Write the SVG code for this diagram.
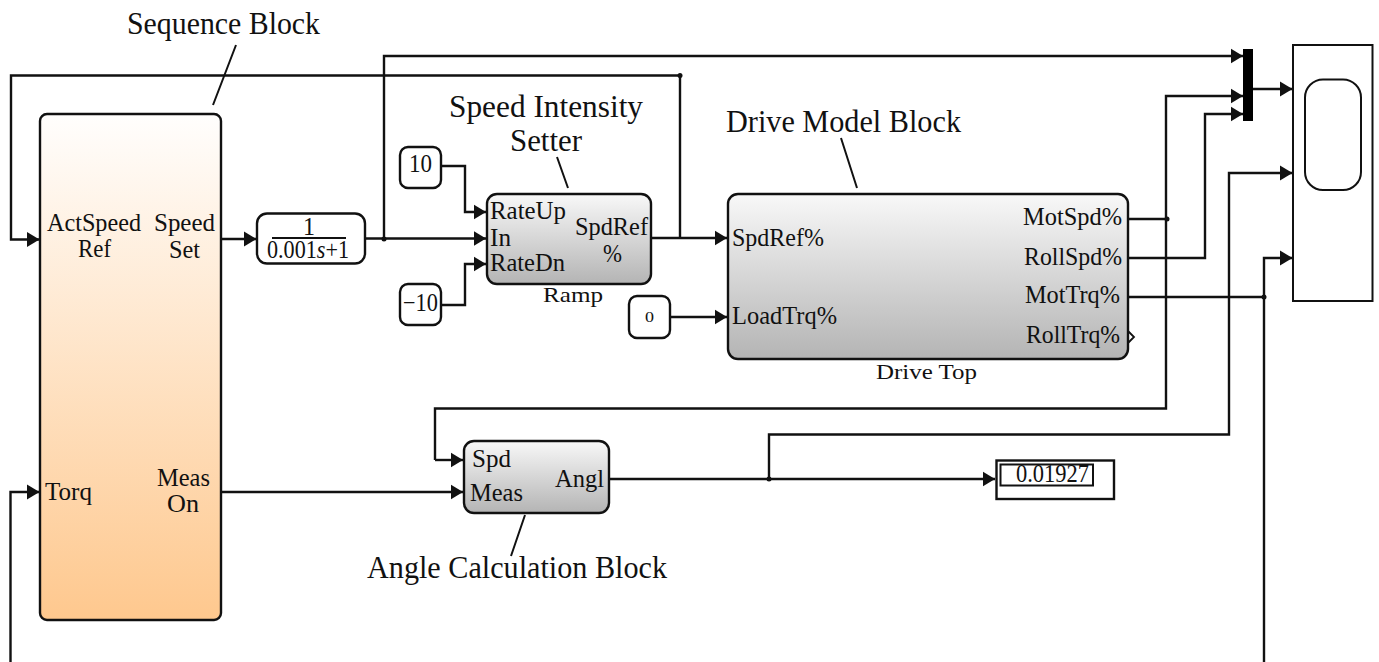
<svg xmlns="http://www.w3.org/2000/svg" width="1379" height="662" viewBox="0 0 1379 662">
<style>
text{font-family:"Liberation Serif","Times New Roman",serif;fill:#111;font-size:24.500px}
.lab{font-size:32px}
.sm{font-size:22px}
.box{stroke:#111;stroke-width:2.4;fill:#fff}
.grey{fill:url(#grey)}
.org{fill:url(#org)}
.w{fill:none;stroke:#111;stroke-width:2.4}
.a{marker-end:url(#arr)}
.lead{fill:none;stroke:#111;stroke-width:2}
.dot{fill:#111}
</style>
<defs>
<linearGradient id="grey" x1="0" y1="0" x2="0" y2="1"><stop offset="0" stop-color="#f8f8f8"/><stop offset="1" stop-color="#b4b4b4"/></linearGradient>
<linearGradient id="org" x1="0" y1="0" x2="0" y2="1"><stop offset="0" stop-color="#fffefd"/><stop offset="1" stop-color="#fec88e"/></linearGradient>
<marker id="arr" markerUnits="userSpaceOnUse" markerWidth="13" markerHeight="16" refX="12.500" refY="8" orient="auto"><path d="M0 0.500L12.500 8L0 15.500Z" fill="#111"/></marker>
</defs>
<g id="connectors">
<path class="w a" d="M384 239V56H1243"/>
<path class="w a" d="M680 238V75.500H11V239.500H39.500"/>
<path class="w a" d="M1128 219H1166V96H1243"/>
<path class="w a" d="M1128 258H1205V114H1243"/>
<path class="w" d="M1166 219V408.500H435V460"/>
<path class="w a" d="M435 460H463"/>
<path class="w a" d="M1253 89H1292.500"/>
<path class="w a" d="M769 479V434.500H1229V173H1292.500"/>
<path class="w" d="M1128 297H1264"/>
<path class="w a" d="M1264 662V258H1292.500"/>
<path class="w a" d="M221 239H256.500"/>
<path class="w a" d="M365 238.500H486"/>
<path class="w a" d="M441 166H465V212H486"/>
<path class="w a" d="M441 305H465V264H486"/>
<path class="w a" d="M651 238H727"/>
<path class="w a" d="M670 317H727"/>
<path class="w a" d="M609 479H995"/>
<path class="w a" d="M221 492H463"/>
<path class="w a" d="M10.500 662V492H39.500"/>
<circle class="dot" cx="384" cy="239" r="2.500"/>
<circle class="dot" cx="680" cy="75.500" r="2.500"/>
<circle class="dot" cx="1167" cy="219" r="2.500"/>
<circle class="dot" cx="1264" cy="297" r="2.500"/>
<circle class="dot" cx="769" cy="479" r="2.500"/>
</g>
<g id="sequence-block">
<rect class="box org" x="40" y="114" width="181" height="506" rx="7"/>
<text x="47" y="231" textLength="94" lengthAdjust="spacingAndGlyphs">ActSpeed</text>
<text x="78" y="257" textLength="33" lengthAdjust="spacingAndGlyphs">Ref</text>
<text x="154" y="231" textLength="61" lengthAdjust="spacingAndGlyphs">Speed</text>
<text x="169" y="258" textLength="31" lengthAdjust="spacingAndGlyphs">Set</text>
<text x="45" y="500" textLength="47" lengthAdjust="spacingAndGlyphs">Torq</text>
<text x="157" y="486" textLength="53" lengthAdjust="spacingAndGlyphs">Meas</text>
<text x="167" y="512" textLength="32" lengthAdjust="spacingAndGlyphs">On</text>
</g>
<g id="transfer-fcn">
<rect class="box" x="257" y="213.500" width="108" height="50" rx="10"/>
<path d="M272 238H346" stroke="#111" stroke-width="1.800"/>
<text x="303" y="235" textLength="12" lengthAdjust="spacingAndGlyphs">1</text>
<text x="267" y="258" textLength="82" lengthAdjust="spacingAndGlyphs">0.001<tspan font-style="italic">s</tspan>+1</text>
</g>
<g id="const-10">
<rect class="box" x="400" y="147" width="41" height="41" rx="8"/>
<text x="409" y="172" textLength="23" lengthAdjust="spacingAndGlyphs">10</text>
</g>
<g id="const-minus10">
<rect class="box" x="400" y="284" width="41" height="41" rx="8"/>
<text x="403" y="311" textLength="35" lengthAdjust="spacingAndGlyphs">−10</text>
</g>
<g id="ramp">
<rect class="box grey" x="487" y="194" width="164" height="90" rx="10"/>
<text x="490" y="219" textLength="76" lengthAdjust="spacingAndGlyphs">RateUp</text>
<text x="490" y="246" textLength="21" lengthAdjust="spacingAndGlyphs">In</text>
<text x="490" y="271" textLength="75" lengthAdjust="spacingAndGlyphs">RateDn</text>
<text x="575" y="235" textLength="73" lengthAdjust="spacingAndGlyphs">SpdRef</text>
<text x="603" y="262" textLength="19" lengthAdjust="spacingAndGlyphs">%</text>
<text x="543" y="302" class="sm" textLength="60" lengthAdjust="spacingAndGlyphs">Ramp</text>
</g>
<g id="const-0">
<rect class="box" x="629" y="296" width="41" height="42" rx="8"/>
<text x="645" y="322" style="font-size:15px" textLength="9" lengthAdjust="spacingAndGlyphs">0</text>
</g>
<g id="drive-top">
<rect class="box grey" x="728" y="194" width="400" height="165" rx="10"/>
<path d="M1128 331L1134 337L1128 343" fill="none" stroke="#111" stroke-width="1.800"/>
<text x="732" y="246" textLength="92" lengthAdjust="spacingAndGlyphs">SpdRef%</text>
<text x="732" y="324" textLength="105" lengthAdjust="spacingAndGlyphs">LoadTrq%</text>
<text x="1023" y="225" textLength="99" lengthAdjust="spacingAndGlyphs">MotSpd%</text>
<text x="1024" y="265" textLength="98" lengthAdjust="spacingAndGlyphs">RollSpd%</text>
<text x="1025" y="303" textLength="95" lengthAdjust="spacingAndGlyphs">MotTrq%</text>
<text x="1026" y="343" textLength="94" lengthAdjust="spacingAndGlyphs">RollTrq%</text>
<text x="876" y="379" class="sm" textLength="101" lengthAdjust="spacingAndGlyphs">Drive Top</text>
</g>
<g id="angle-block">
<rect class="box grey" x="464" y="441" width="145" height="72" rx="10"/>
<text x="472" y="467" textLength="39" lengthAdjust="spacingAndGlyphs">Spd</text>
<text x="470" y="501" textLength="53" lengthAdjust="spacingAndGlyphs">Meas</text>
<text x="555" y="487" textLength="49" lengthAdjust="spacingAndGlyphs">Angl</text>
</g>
<g id="display">
<rect class="box" x="996.500" y="460.500" width="117.500" height="38.500"/>
<rect x="1000.500" y="464.500" width="92.500" height="21" fill="#fff" stroke="#111" stroke-width="2"/>
<text x="1016" y="482" textLength="73" lengthAdjust="spacingAndGlyphs">0.01927</text>
</g>
<g id="mux"><rect x="1243" y="49" width="10" height="72" fill="#000"/></g>
<g id="scope">
<rect x="1293" y="45" width="79.500" height="256" fill="#fff" stroke="#111" stroke-width="2"/>
<rect x="1305" y="79.500" width="56" height="110.500" rx="18" fill="#fff" stroke="#111" stroke-width="2"/>
</g>
<g id="annotations">
<path class="lead" d="M236 45L213 105M557 157L568 188M841 138L857 188M525 515L511 556"/>
<text class="lab" x="127" y="34" textLength="193" lengthAdjust="spacingAndGlyphs">Sequence Block</text>
<text class="lab" x="449" y="117" textLength="194" lengthAdjust="spacingAndGlyphs">Speed Intensity</text>
<text class="lab" x="510" y="151" textLength="72" lengthAdjust="spacingAndGlyphs">Setter</text>
<text class="lab" x="726" y="132" textLength="235" lengthAdjust="spacingAndGlyphs">Drive Model Block</text>
<text class="lab" x="367" y="578" textLength="300" lengthAdjust="spacingAndGlyphs">Angle Calculation Block</text>
</g>
</svg>
